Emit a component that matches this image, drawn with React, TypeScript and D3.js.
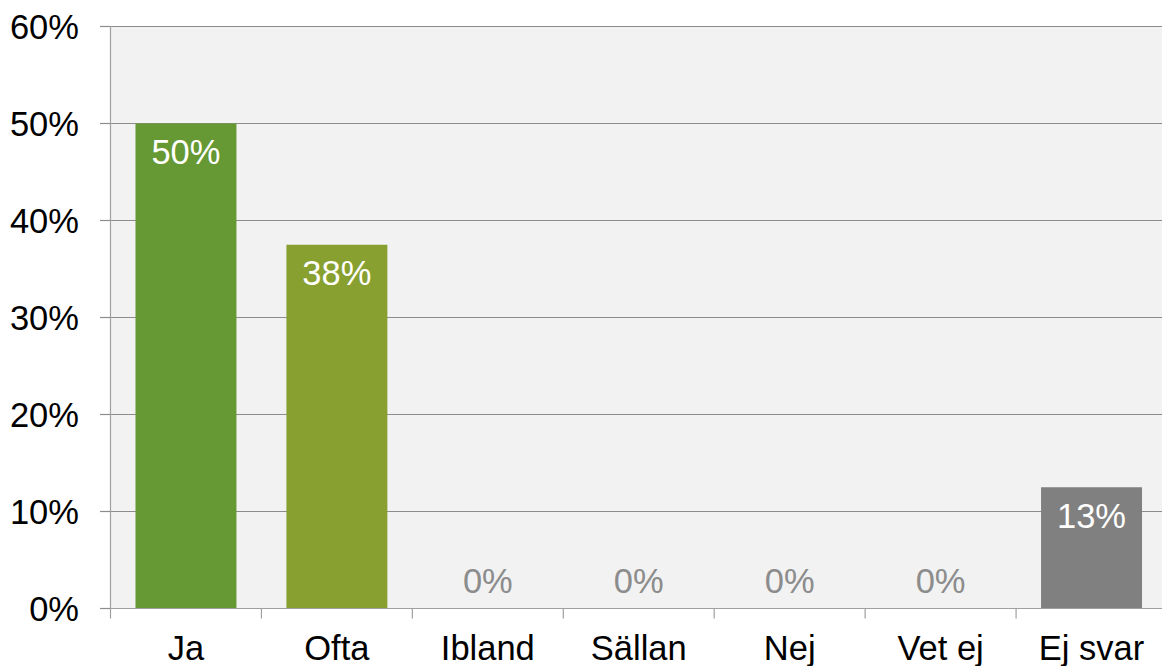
import React from "react";
import * as d3 from "d3";

const categories = ["Ja", "Ofta", "Ibland", "Sällan", "Nej", "Vet ej", "Ej svar"];
const values = [0.5, 0.375, 0, 0, 0, 0, 0.125];
const barColors = ["#669933", "#88a030", "#808080", "#808080", "#808080", "#808080", "#808080"];
const yTicks = [0, 0.1, 0.2, 0.3, 0.4, 0.5, 0.6];

export default function App() {
  const W = 1162, H = 666;
  const left = 110.5, right = 1167, top = 26.5, bottom = 608.5;
  const y = d3.scaleLinear().domain([0, 0.6]).range([bottom, top]);
  const x = d3.scaleBand<string>().domain(categories).range([left, right]).paddingInner(0.331).paddingOuter(0.1655);
  const step = x.step();
  const font = "'Liberation Sans', Arial, sans-serif";
  const fs = 34.5;
  const fmt = (v: number) => `${Math.round(v * 100)}%`;
  return (
    <svg width={W} height={H} style={{ position: "absolute", left: 0, top: 0 }} fontFamily={font}>
      <rect x={left} y={top} width={right - left} height={bottom - top} fill="#f2f2f2" />
      {yTicks.map((t) => (
        <g key={t}>
          {t > 0 && <line x1={left} x2={right} y1={y(t)} y2={y(t)} stroke="#8c8c8c" strokeWidth={1.2} />}
          <line x1={100} x2={left} y1={y(t)} y2={y(t)} stroke="#8c8c8c" strokeWidth={1.2} />
          <text x={79} y={y(t) + 12} textAnchor="end" fontSize={fs} fill="#000">{fmt(t)}</text>
        </g>
      ))}
      {categories.map((c, i) => {
        const v = values[i];
        const bx = x(c)!;
        const bw = x.bandwidth();
        const cx = bx + bw / 2;
        return (
          <g key={c}>
            {v > 0 && <rect x={bx} y={y(v)} width={bw} height={bottom - y(v)} fill={barColors[i]} />}
            {v > 0 ? (
              <text x={cx} y={y(v) + 40.5} textAnchor="middle" fontSize={fs} fill="#fff">{fmt(v)}</text>
            ) : (
              <text x={cx} y={bottom - 15.5} textAnchor="middle" fontSize={fs} fill="#8c8c8c">{fmt(v)}</text>
            )}
            <text x={cx} y={660} textAnchor="middle" fontSize={fs} fill="#000">{c}</text>
          </g>
        );
      })}
      <line x1={left} x2={left} y1={top} y2={bottom + 10} stroke="#a0a0a0" strokeWidth={1.2} />
      <line x1={left} x2={right} y1={bottom} y2={bottom} stroke="#a0a0a0" strokeWidth={1.2} />
      {categories.map((c, i) => (
        <line key={c} x1={left + step * (i + 1)} x2={left + step * (i + 1)} y1={bottom} y2={bottom + 10} stroke="#a0a0a0" strokeWidth={1.2} />
      ))}
    </svg>
  );
}
